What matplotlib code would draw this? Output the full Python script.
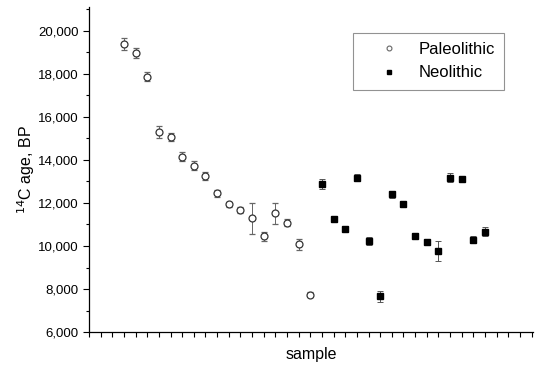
import matplotlib.pyplot as plt
from matplotlib.lines import Line2D
from matplotlib.ticker import FuncFormatter, MultipleLocator

plt.rcParams['font.family'] = ['Liberation Sans', 'DejaVu Sans']

# sample numbers
paleo_x = list(range(3, 20))
neo_x = list(range(20, 35))

# 14C ages (BP) and their errors
paleo_age = [19380, 18960, 17870, 15280, 15050, 14150, 13730, 13260, 12440,
             11940, 11670, 11280, 10450, 11510, 11090, 10080, 7740]
paleo_err = [270, 250, 200, 270, 180, 220, 200, 180, 150,
             120, 150, 700, 200, 480, 150, 250, 120]
neo_age = [12880, 11250, 10780, 13170, 10240, 7660, 12400, 11960, 10470,
           10190, 9770, 13170, 13110, 10300, 10660]
neo_err = [250, 120, 150, 150, 200, 250, 150, 150, 120,
           150, 450, 200, 150, 150, 200]

fig = plt.figure(figsize=(5.36, 3.65), dpi=100)
ax = fig.add_axes([0.166, 0.09, 0.828, 0.891])

ax.errorbar(paleo_x, paleo_age, yerr=paleo_err, fmt='o', ms=5,
            mfc='white', mec='#333333', mew=0.9, ecolor='#666666',
            elinewidth=0.7, capsize=2.5, capthick=0.7)
ax.errorbar(neo_x, neo_age, yerr=neo_err, fmt='s', ms=5,
            mfc='black', mec='black', ecolor='#555555',
            elinewidth=0.7, capsize=2.5, capthick=0.7)

ax.set_xlim(0, 38.1)
ax.set_ylim(6000, 21100)
ax.yaxis.set_major_locator(MultipleLocator(2000))
ax.yaxis.set_minor_locator(MultipleLocator(1000))
ax.yaxis.set_major_formatter(FuncFormatter(lambda v, p: f'{int(v):,}'))
ax.xaxis.set_major_locator(MultipleLocator(1))
ax.set_xticklabels([])
ax.tick_params(axis='x', direction='out', length=3.5, width=0.8)
ax.tick_params(axis='y', which='major', direction='out', length=4, width=0.8,
               labelsize=9.5)
ax.tick_params(axis='y', which='minor', direction='out', length=2.5, width=0.8)

for s in ['top', 'right']:
    ax.spines[s].set_visible(False)
for s in ['left', 'bottom']:
    ax.spines[s].set_linewidth(0.9)

ax.set_xlabel('sample', fontsize=11.5, labelpad=4)
ax.set_ylabel(r'$^{14}$C age, BP', fontsize=11.5, labelpad=1)

handles = [
    Line2D([], [], ls='none', marker='o', ms=3.5, mfc='white', mec='#666666', mew=0.8),
    Line2D([], [], ls='none', marker='s', ms=3.5, mfc='black', mec='black'),
]
leg = ax.legend(handles, ['Paleolithic', 'Neolithic'], loc='upper right',
                bbox_to_anchor=(0.935, 0.92), borderaxespad=0, fontsize=12,
                frameon=True, fancybox=False, edgecolor='#777777',
                handletextpad=0.1, borderpad=0.55, labelspacing=0.5,
                handlelength=3.3)
leg.get_frame().set_linewidth(0.8)

fig.savefig('out.png', dpi=100)
